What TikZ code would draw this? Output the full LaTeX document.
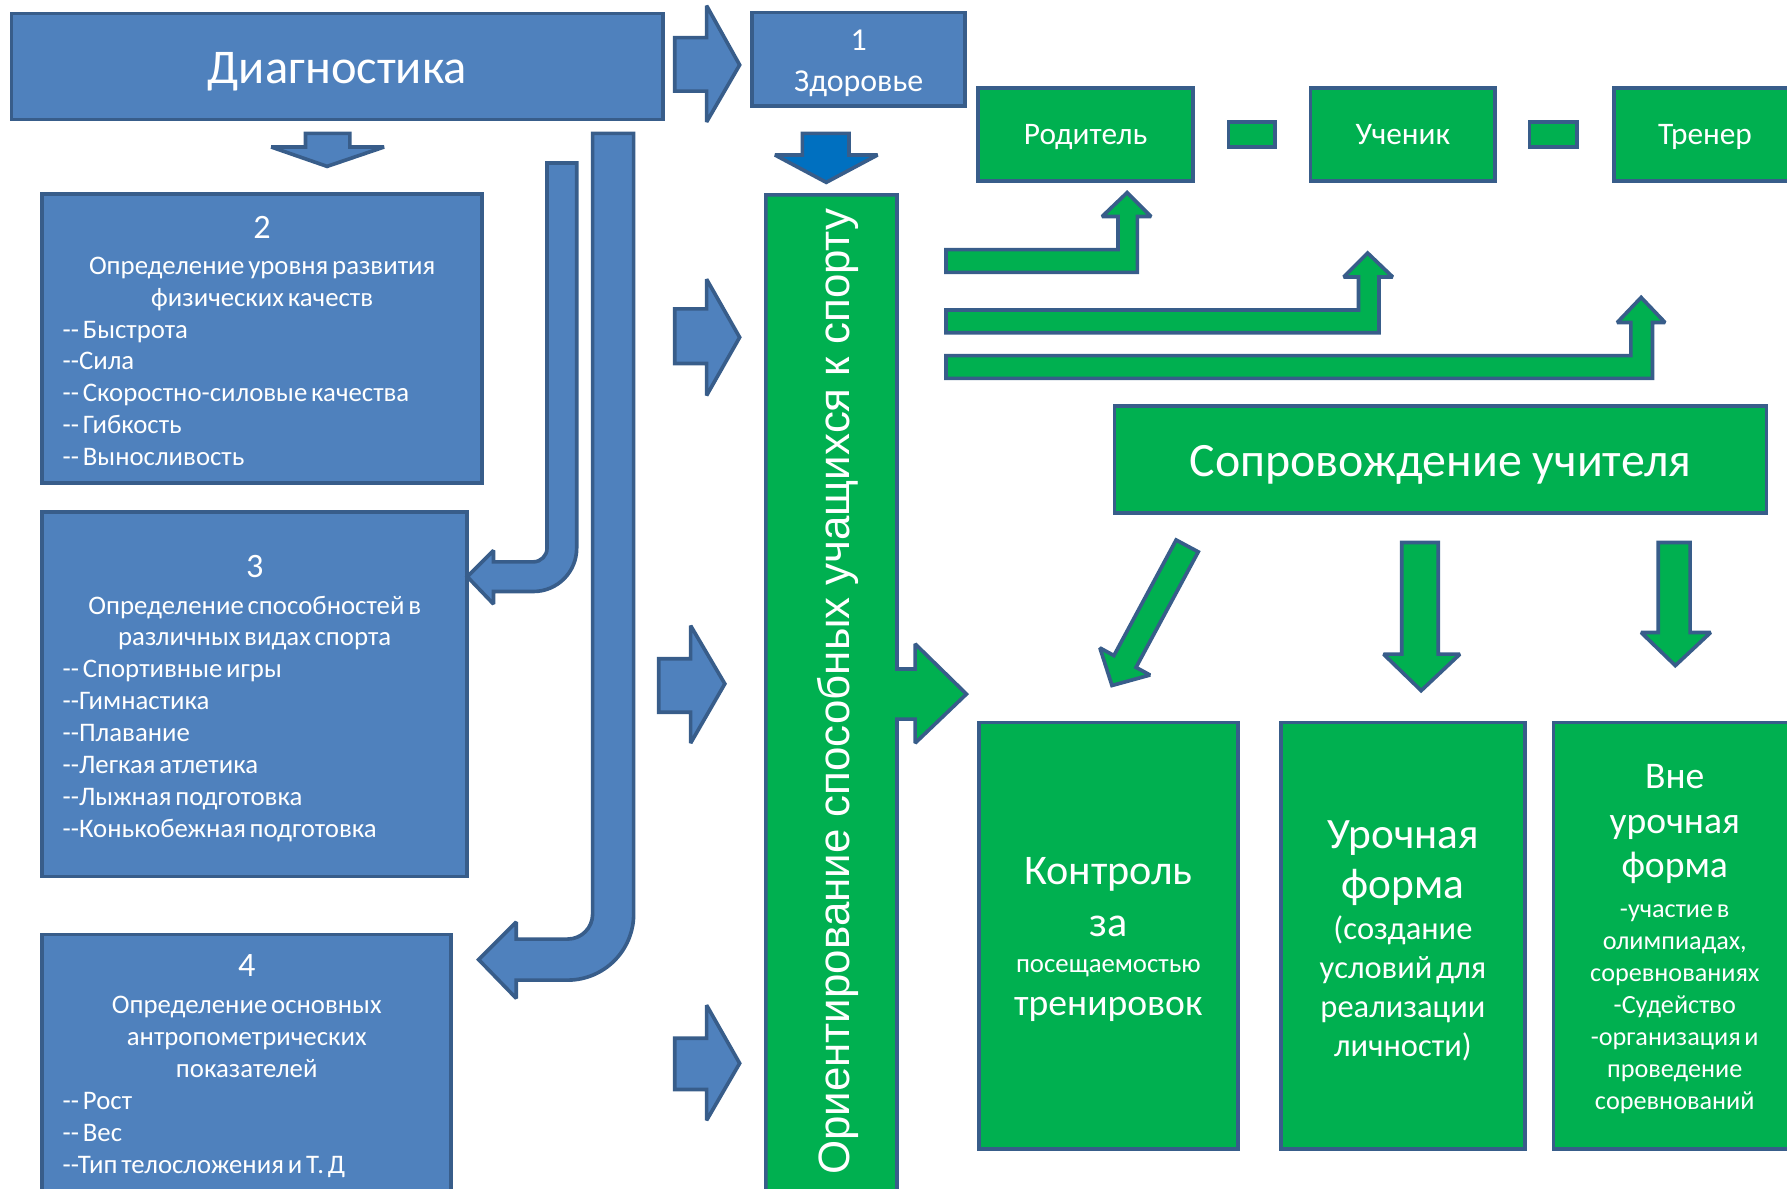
\documentclass[tikz,border=0pt]{standalone}
\usepackage{fontspec}
\setmainfont{Carlito}
\newfontfamily\arialfont{Liberation Sans}
\definecolor{bfill}{HTML}{4F81BD}
\definecolor{bline}{HTML}{385D8A}
\definecolor{gfill}{HTML}{00B050}
\definecolor{dblue}{HTML}{0070C0}
\begin{document}
\begin{tikzpicture}[x=1pt,y=-1pt,
  bbox/.style={draw=bline, fill=bfill, line width=3.2pt, text=white, inner sep=0pt},
  gbox/.style={draw=bline, fill=gfill, line width=3.2pt, text=white, inner sep=0pt},
  txt/.style={text=white, inner sep=0pt},
  barrow/.style={draw=bline, fill=bfill, line width=3.2pt, line join=miter, miter limit=2},
  garrow/.style={draw=bline, fill=gfill, line width=3.2pt, line join=miter, miter limit=2},
  darrow/.style={draw=bline, fill=dblue, line width=3.2pt, line join=miter, miter limit=2}]
\useasboundingbox (0,0) rectangle (1568,1043);

% ---------- blue boxes ----------
\node[bbox, minimum width=572, minimum height=93, text height=30.4pt, text depth=0pt,
  font=\fontsize{42.5}{46}\selectfont] (diag) at (296,58.5) {Диагностика};
\node[bbox, minimum width=187, minimum height=82] (health) at (753.5,52) {};
\node[txt, text width=180, align=center, yshift=-4pt] (healthtext) at (health.center)
  {\fontsize{28}{36}\selectfont 1\\Здоровье\par};

\node[bbox, minimum width=386, minimum height=254] (phys) at (230,297) {};
\node[txt, text width=350, yshift=-2.5pt] (phystext) at (phys.center)
  {{\centering\fontsize{30}{34}\selectfont 2\par}\vspace{3pt}
   {\centering\fontsize{23.5}{28}\selectfont Определение уровня развития\\физических качеств\par}
   {\raggedright\fontsize{23.5}{28}\selectfont -{}- Быстрота\\-{}-Сила\\-{}- Скоростно-силовые качества\\-{}- Гибкость\\-{}- Выносливость\par}};

\node[bbox, minimum width=373, minimum height=320] (sport) at (223.5,609) {};
\node[txt, text width=337, yshift=-4pt] (sporttext) at (sport.center)
  {{\centering\fontsize{30}{34}\selectfont 3\par}\vspace{4pt}
   {\centering\fontsize{23.5}{28}\selectfont Определение способностей в\\различных видах спорта\par}
   {\raggedright\fontsize{23.5}{28}\selectfont -{}- Спортивные игры\\-{}-Гимнастика\\-{}-Плавание\\-{}-Легкая атлетика\\-{}-Лыжная подготовка\\-{}-Конькобежная подготовка\par}};

\node[bbox, minimum width=359, minimum height=240] (anthro) at (216.5,940) {};
\node[txt, text width=323, anchor=north] (anthrotext) at (216.5,837)
  {{\centering\fontsize{30}{34}\selectfont 4\par}\vspace{5pt}
   {\centering\fontsize{23.5}{28}\selectfont Определение основных\\антропометрических\\показателей\par}
   {\raggedright\fontsize{23.5}{28}\selectfont -{}- Рост\\-{}- Вес\\-{}-Тип телосложения и Т. Д\par}};

% ---------- blue arrows ----------
\draw[barrow] (592,33) -- (620,33) -- (620,5) -- (649,57) -- (620,107) -- (620,80) -- (592,80) -- cycle;
\draw[barrow] (592,271) -- (620,271) -- (620,245) -- (649,296) -- (620,347) -- (620,319) -- (592,319) -- cycle;
\draw[barrow] (578,578) -- (606,578) -- (606,549) -- (636,600) -- (606,652) -- (606,625) -- (578,625) -- cycle;
\draw[barrow] (592,911) -- (620,911) -- (620,882) -- (649,933) -- (620,983) -- (620,956) -- (592,956) -- cycle;
\draw[barrow] (268,117) -- (307,117) -- (307,129) -- (337,129) -- (287,146) -- (238,129) -- (268,129) -- cycle;
\draw[darrow] (704,117) -- (745,117) -- (745,136) -- (770,136) -- (725,160) -- (680,136) -- (704,136) -- cycle;
% U-arrows
\draw[barrow] (480,143) -- (506,143) -- (506,481) .. controls (506,502) and (489,519) .. (468,519)
  -- (433,519) -- (433,530) -- (410,506) -- (433,483) -- (433,493) -- (468,493)
  .. controls (474.6,493) and (480,487.6) .. (480,481) -- cycle;
\draw[barrow] (520,117) -- (556,117) -- (556,802) .. controls (556,834) and (530,860) .. (498,860)
  -- (453,860) -- (453,876) -- (420,842) -- (453,809) -- (453,824) -- (498,824)
  .. controls (510.2,824) and (520,814.2) .. (520,802) -- cycle;

% ---------- green column with arrow ----------
\draw[garrow] (672,1070) -- (672,171) -- (787,171) -- (787,587) -- (803,587) -- (803,565) -- (848,609)
  -- (803,652) -- (803,631) -- (787,631) -- (787,1070) -- cycle;
\node[rotate=90, txt, font=\arialfont\fontsize{38.5}{40}\selectfont] (orient) at (735,607)
  {Ориентирование способных учащихся к спорту};

% ---------- green boxes top ----------
\node[gbox, minimum width=189, minimum height=82, text height=17pt, text depth=0pt, font=\fontsize{27.5}{30}\selectfont] (parent) at (952.5,118) {Родитель};
\node[gbox, minimum width=162, minimum height=82, text height=17pt, text depth=0pt, font=\fontsize{27.5}{30}\selectfont] (pupil) at (1231,118) {Ученик};
\node[gbox, minimum width=160, minimum height=82, text height=17pt, text depth=0pt, font=\fontsize{27.5}{30}\selectfont] (coach) at (1496,118) {Тренер};
\node[gbox, minimum width=41, minimum height=22] (sq1) at (1098.5,118) {};
\node[gbox, minimum width=42, minimum height=22] (sq2) at (1363,118) {};

% L arrows
\draw[garrow] (830,219) -- (981,219) -- (981,190) -- (967,190) -- (989,169) -- (1010,190) -- (998,190) -- (998,239) -- (830,239) -- cycle;
\draw[garrow] (830,272) -- (1192,272) -- (1192,243) -- (1179,243) -- (1200,222) -- (1222,243) -- (1210,243) -- (1210,292) -- (830,292) -- cycle;
\draw[garrow] (830,312) -- (1431,312) -- (1431,283) -- (1419,283) -- (1440,261) -- (1461,283) -- (1450,283) -- (1450,332) -- (830,332) -- cycle;

% ---------- teacher support ----------
\node[gbox, minimum width=572, minimum height=94, text height=31pt, text depth=0pt,
  font=\fontsize{42}{46}\selectfont] (support) at (1264,403) {Сопровождение учителя};

\draw[garrow] (1032,473.8) -- (1051.4,484.2) -- (996.8,585.6) -- (1009.1,592.3) -- (975.7,601.5) -- (965.1,568.5) -- (977.4,575.2) -- cycle;
\draw[garrow] (1230,476) -- (1262,476) -- (1262,574) -- (1281,574) -- (1247,606) -- (1214,574) -- (1230,574) -- cycle;
\draw[garrow] (1455,476) -- (1483,476) -- (1483,555) -- (1501,555) -- (1470,584) -- (1440,555) -- (1455,555) -- cycle;

% ---------- bottom green boxes ----------
\node[gbox, minimum width=227, minimum height=374] (control) at (972.5,821) {};
\node[txt, text width=215, align=center, yshift=-3pt] (controltext) at (control.center)
  {{\fontsize{37}{46}\selectfont Контроль\\за\par}
   {\fontsize{23.5}{32}\selectfont посещаемостью\par}
   {\fontsize{33}{37}\selectfont тренировок\par}};
\node[gbox, minimum width=214, minimum height=374] (lesson) at (1231,821) {};
\node[txt, text width=205, align=center, yshift=-4.5pt] (lessontext) at (lesson.center)
  {{\fontsize{38}{44}\selectfont Урочная\\форма\par}
   {\fontsize{28.5}{36}\selectfont (создание\par}
   {\fontsize{28.5}{34}\selectfont условий для\\реализации\\личности)\par}};
\node[gbox, minimum width=213, minimum height=374] (extra) at (1469.5,821) {};
\node[txt, text width=205, align=center, yshift=-3pt] (extratext) at (extra.center)
  {{\fontsize{33}{39}\selectfont Вне\\урочная\\форма\par}
   {\fontsize{23}{35}\selectfont -участие в\par}
   {\fontsize{23}{28}\selectfont олимпиадах,\\соревнованиях\\-Судейство\\-организация и\\проведение\\соревнований\par}};
\end{tikzpicture}
\end{document}
